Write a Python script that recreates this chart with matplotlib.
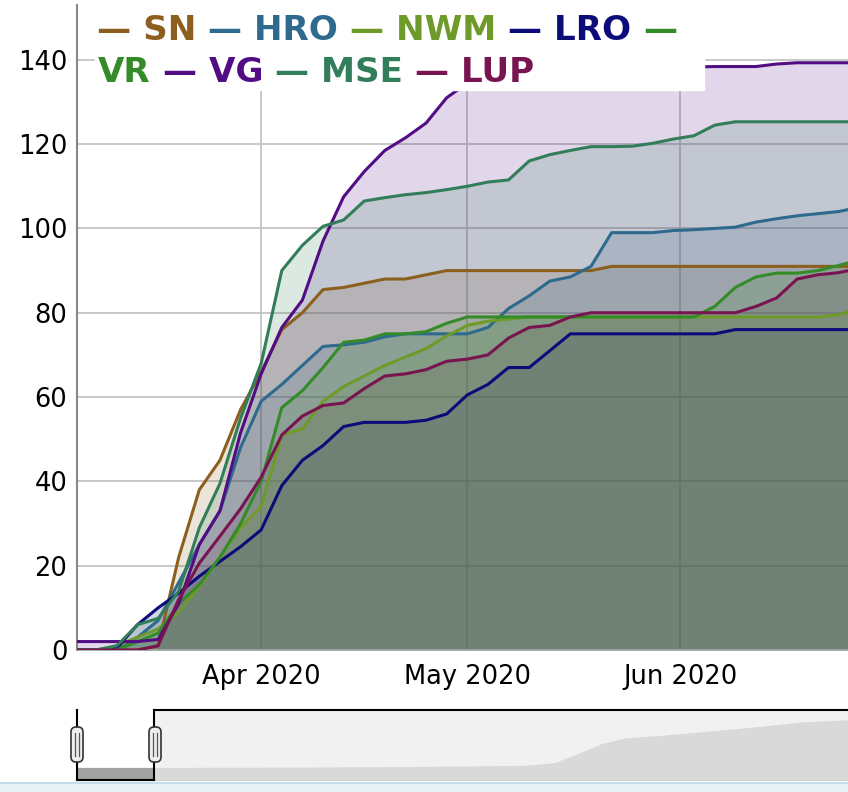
import datetime as dt
import pandas as pd
import matplotlib
matplotlib.use('Agg')
import matplotlib.pyplot as plt
import matplotlib.dates as mdates
from matplotlib.patches import Rectangle, FancyBboxPatch
from matplotlib.lines import Line2D
from matplotlib.transforms import IdentityTransform

W, H = 848, 792

# one reading every third day, 5 Mar 2020 .. 27 Jun 2020
dates = pd.date_range('2020-03-05', periods=39, freq='3D')

sn = [0, 0, 0, 0, 1, 22, 38, 45, 57, 66,
      76, 80, 85.5, 86, 87, 88, 88, 89, 90, 90,
      90, 90, 90, 90, 90, 90, 91, 91, 91, 91,
      91, 91, 91, 91, 91, 91, 91, 91, 91]
hro = [0, 0, 0.5, 3, 7, 16, 25, 33, 48, 59,
       63, 67.5, 72, 72.4, 73, 74.3, 75, 75, 75, 75,
       76.5, 81, 84, 87.5, 88.5, 91, 99, 99, 99, 99.5,
       99.7, 100, 100.3, 101.5, 102.3, 103, 103.5, 104, 105]
nwm = [0, 0, 1, 3, 5, 9, 15, 22, 29, 34,
       51, 52.5, 59, 62.5, 65, 67.5, 69.5, 71.5, 74.5, 77,
       78, 78.5, 79, 79, 79, 79, 79, 79, 79, 79,
       79, 79, 79, 79, 79, 79, 79, 79.5, 81]
lro = [0, 0, 0.5, 6, 10, 13.5, 17.5, 21, 24.5, 28.5,
       39, 45, 48.5, 53, 54, 54, 54, 54.5, 56, 60.5,
       63, 67, 67, 71, 75, 75, 75, 75, 75, 75,
       75, 75, 76, 76, 76, 76, 76, 76, 76]
vr = [0, 0, 0, 2, 4, 11, 15.5, 22, 30, 40,
      57.5, 61.5, 67, 73, 73.5, 75, 75, 75.5, 77.5, 79,
      79, 79, 79, 79, 79, 79, 79, 79, 79, 79,
      79, 81.5, 86, 88.5, 89.4, 89.4, 90, 91.2, 92.5]
vg = [2, 2, 2, 2, 2.5, 11, 25, 33, 51.5, 65.5,
      76.5, 83, 97, 107.5, 113.5, 118.5, 121.5, 125, 131, 134.5,
      135.5, 136, 136.5, 137, 137, 137.5, 137.5, 138, 138, 138,
      138.3, 138.4, 138.4, 138.4, 139, 139.3, 139.3, 139.3, 139.3]
mse = [0, 0, 1, 6, 7.5, 14, 29, 39.5, 55, 68,
       90, 96, 100.5, 102, 106.5, 107.3, 108, 108.5, 109.2, 110,
       111, 111.5, 116, 117.5, 118.5, 119.4, 119.4, 119.5, 120.2, 121.2,
       122, 124.5, 125.3, 125.3, 125.3, 125.3, 125.3, 125.3, 125.3]
lup = [0, 0, 0, 0, 1, 12, 20.6, 27, 33.5, 41,
       51, 55.5, 58, 58.6, 62, 65, 65.5, 66.5, 68.5, 69,
       70, 74, 76.5, 77, 79, 80, 80, 80, 80, 80,
       80, 80, 80, 81.5, 83.5, 88, 89, 89.5, 90.5]

names = ['SN', 'HRO', 'NWM', 'LRO', 'VR', 'VG', 'MSE', 'LUP']
series = [sn, hro, nwm, lro, vr, vg, mse, lup]
colors = ['#8C5F1E', '#2D6A8E', '#6E9A2A', '#0B0B7A',
          '#348C28', '#520C84', '#327D5A', '#781450']

# range selector overview
overview_day = [0, 10, 30, 45, 58, 62, 65, 68, 71, 76, 82, 88, 94, 100]
overview_total = [18, 18, 18.5, 19.5, 21, 25, 38, 52, 60, 64, 70, 76, 83, 86]


def px_rect(x0, y0, x1, y1):
    return [x0 / W, 1 - y1 / H, (x1 - x0) / W, (y1 - y0) / H]


fig = plt.figure(figsize=(W / 100, H / 100), dpi=100)

ax = fig.add_axes(px_rect(77, 5, 848, 650))
# fills stacked so the overlap comes out grey-green as in the original
for i in [0, 1, 3, 5, 7, 2, 6, 4]:
    ax.fill_between(dates, 0, series[i], color=colors[i], alpha=0.17,
                    lw=0, zorder=1)
for vals, c in zip(series, colors):
    ax.plot(dates, vals, color=c, lw=2.2, zorder=3)

apr1 = mdates.date2num(dt.datetime(2020, 4, 1))
ax.set_xlim(apr1 - 26.8, apr1 + 85.4)
ax.set_ylim(0, 153)
ax.set_yticks(range(0, 141, 20))
ax.xaxis.set_major_locator(mdates.MonthLocator())
ax.xaxis.set_major_formatter(mdates.DateFormatter('%b %Y'))
ax.set_axisbelow(True)
ax.grid(color='#c4c4c4', lw=1.3)
ax.tick_params(length=0, labelsize=18.5)
ax.tick_params(axis='y', pad=7)
ax.tick_params(axis='x', pad=10)
for s in ['top', 'right']:
    ax.spines[s].set_visible(False)
ax.spines['left'].set_color('#888888')
ax.spines['left'].set_linewidth(1.5)
ax.spines['bottom'].set_color('#aaaaaa')
ax.spines['bottom'].set_linewidth(1.2)

# legend: white box with coloured running text
fig.add_artist(Rectangle((95 / W, 1 - 90 / H), (704 - 95) / W, 90 / H,
                         transform=fig.transFigure, color='white', zorder=10))
rows = [
    [('— SN', 0), (' — HRO', 1), (' — NWM', 2), (' — LRO', 3), (' —', 4)],
    [('VR', 4), (' — VG', 5), (' — MSE', 6), (' — LUP', 7)],
]
starts = [(97, 40), (98, 82)]
renderer = fig.canvas.get_renderer()
for row, (x0, base) in zip(rows, starts):
    x = x0
    for txt, i in row:
        t = fig.text(x / W, 1 - base / H, txt, color=colors[i], fontsize=24.6,
                     fontweight='bold', va='baseline', ha='left', zorder=11)
        x = t.get_window_extent(renderer).x1

# range selector
oax = fig.add_axes(px_rect(77, 710, 848, 780))
oax.set_xlim(0, 100)
oax.set_ylim(0, 100)
oax.axis('off')
oax.fill_between(overview_day, 0, overview_total, color='#a2a2a2', lw=0)
oax.axvspan(10, 100, color='#ededed', alpha=0.74, lw=0)
for xs, ys in [([10, 100], [100, 100]), ([10, 10], [0, 100]),
               ([0, 0], [0, 100]), ([0, 10], [0, 0])]:
    oax.plot(xs, ys, color='black', lw=1.5, clip_on=False, zorder=5)

for cx in (77, 155):
    fig.add_artist(FancyBboxPatch((cx - 6, 30), 12, 35,
                                  boxstyle='round,pad=0,rounding_size=5',
                                  transform=IdentityTransform(),
                                  facecolor='#eeeeee', edgecolor='#333333',
                                  lw=1.2, zorder=12))
    for dx in (-2, 2):
        fig.add_artist(Line2D([cx + dx, cx + dx], [36, 59], color='#555555',
                              lw=0.9, transform=IdentityTransform(), zorder=13))

fig.add_artist(Rectangle((0, 0), W, 9, transform=IdentityTransform(),
                         color='#e6f2f6', zorder=1))
fig.add_artist(Line2D([0, W], [9, 9], color='#c2dfe9', lw=1.5,
                      transform=IdentityTransform(), zorder=2))

fig.savefig('out.png', dpi=100)
